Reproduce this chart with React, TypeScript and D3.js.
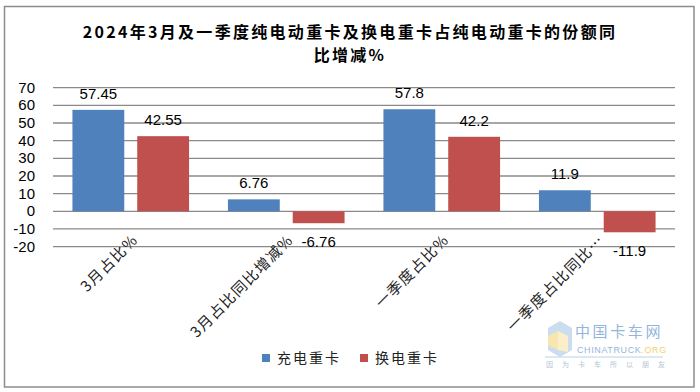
import React from 'react';
import * as d3 from 'd3';

const categories = ['3月占比%', '3月占比同比增减%', '一季度占比%', '一季度占比同比…'];
const seriesNames = ['充电重卡', '换电重卡'];
const chargeValues = [57.45, 6.76, 57.8, 11.9];
const swapValues = [42.55, -6.76, 42.2, -11.9];
const valueLabels = [
  ['57.45', '6.76', '57.8', '11.9'],
  ['42.55', '-6.76', '42.2', '-11.9'],
];
const yTicks = [70, 60, 50, 40, 30, 20, 10, 0, -10, -20];
const colors = ['#4F81BD', '#C0504D'];

const W = 700;
const H = 392;
const numFont = '"Liberation Sans", "Noto Sans CJK SC", sans-serif';
const cjkFont = '"Noto Sans CJK SC", "Liberation Sans", sans-serif';

export default function App() {
  const x0 = d3.scaleBand<string>().domain(categories).range([53, 675]).padding(0);
  const x1 = d3.scaleBand<string>()
    .domain(seriesNames)
    .range([0, x0.bandwidth()])
    .paddingInner(0.2)
    .paddingOuter(0.3);
  const y = d3.scaleLinear().domain([-20, 70]).range([246.6, 87.7]);

  const series = [chargeValues, swapValues];

  return (
    <svg width={W} height={H} style={{ position: 'absolute', left: 0, top: 0, background: '#fff' }}>
      <rect x={4.5} y={6.5} width={689.5} height={380.5} fill="#fff" stroke="#8c8c8c" strokeWidth={1.5} />

      {/* title */}
      <text x={350} y={38} textAnchor="middle" fontFamily={cjkFont} fontWeight="bold" fontSize={16} letterSpacing={2.3} fill="#000">
        2024年3月及一季度纯电动重卡及换电重卡占纯电动重卡的份额同
      </text>
      <text x={350} y={61} textAnchor="middle" fontFamily={cjkFont} fontWeight="bold" fontSize={16} letterSpacing={2.3} fill="#000">
        比增减%
      </text>

      {/* grid + y ticks */}
      {yTicks.map(t => (
        <g key={t}>
          <line x1={53} x2={675} y1={y(t)} y2={y(t)} stroke="#8a8a8a" strokeWidth={1.3} />
          <text x={35} y={y(t) + 5} textAnchor="end" fontFamily={numFont} fontSize={15} fill="#000">{t}</text>
        </g>
      ))}

      {/* bars */}
      {series.map((vals, si) =>
        vals.map((v, ci) => {
          const bx = (x0(categories[ci]) ?? 0) + (x1(seriesNames[si]) ?? 0);
          const top = y(Math.max(0, v));
          const bottom = y(Math.min(0, v));
          const cx = bx + x1.bandwidth() / 2;
          const ly = v >= 0 ? top - 11 : bottom + 24;
          return (
            <g key={`${si}-${ci}`}>
              <rect x={bx} y={top} width={x1.bandwidth()} height={bottom - top} fill={colors[si]} />
              <text x={cx} y={ly} textAnchor="middle" fontFamily={numFont} fontSize={15} fill="#000">
                {valueLabels[si][ci]}
              </text>
            </g>
          );
        })
      )}

      {/* category labels */}
      {categories.map(c => {
        const cx = (x0(c) ?? 0) + x0.bandwidth() / 2 + 8;
        const cy = 241;
        return (
          <text key={c} x={cx} y={cy} textAnchor="end" transform={`rotate(-45 ${cx} ${cy})`}
            fontFamily={cjkFont} fontSize={15} letterSpacing={1.2} fill="#222">
            {c}
          </text>
        );
      })}

      {/* legend */}
      {seriesNames.map((s, i) => {
        const lx = [262, 360][i];
        return (
          <g key={s}>
            <rect x={lx} y={354} width={8} height={8} fill={colors[i]} />
            <text x={lx + 15} y={363} fontFamily={cjkFont} fontSize={14} letterSpacing={2} fill="#222">{s}</text>
          </g>
        );
      })}

      {/* watermark */}
      <g opacity={0.6}>
        <polygon points="548,328 560,321 572,328 572,350 560,357 548,350" fill="#a9c8e3" />
        <polygon points="548,336 558,331 558,350 548,345" fill="#f3d77a" />
        <polygon points="558,331 568,336 568,352 558,350" fill="#f7e6a6" />
        <text x={575} y={337} fontFamily={cjkFont} fontSize={15} fill="#4a86c5" letterSpacing={2.6}>中国卡车网</text>
        <text x={577} y={353} fontFamily={numFont} fontSize={9} fill="#4a86c5" letterSpacing={0.6}>
          CHINATRUCK<tspan fill="#f0b400">.ORG</tspan>
        </text>
        <line x1={545} x2={663} y1={357} y2={357} stroke="#8fb2d6" strokeWidth={1} />
        <text x={546} y={367} fontFamily={cjkFont} fontSize={7} fill="#7a9cc0" letterSpacing={9}>因为卡车所以朋友</text>
      </g>
    </svg>
  );
}
